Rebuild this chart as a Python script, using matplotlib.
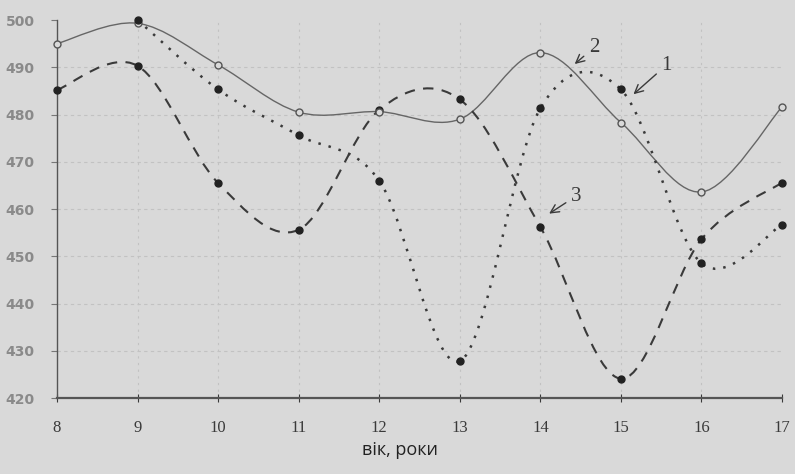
import numpy as np
import matplotlib.pyplot as plt
from matplotlib.path import Path
from matplotlib.patches import PathPatch

# data
ages = [8, 9, 10, 11, 12, 13, 14, 15, 16, 17]
s1 = [np.nan, 500, 485.3, 475.6, 466, 427.8, 481.3, 485.3, 448.5, 456.7]  # dotted
s2 = [495, 499.3, 490.5, 480.5, 480.6, 479, 493.1, 478.3, 463.6, 481.6]  # solid
s3 = [485.2, 490.3, 465.5, 455.6, 481, 483.2, 456.2, 424.1, 453.6, 465.6]  # dashed
yticks = [420, 430, 440, 450, 460, 470, 480, 490, 500]

bg = '#d9d9d9'
ink = '#3a3a3a'


def smooth_path(x, y):
    # catmull-rom style smoothing (like excel "smoothed line")
    pts = [(a, b) for a, b in zip(x, y) if not np.isnan(b)]
    pts = np.array(pts, dtype=float)
    n = len(pts)
    verts = [pts[0]]
    codes = [Path.MOVETO]
    for i in range(n - 1):
        p0 = pts[max(i - 1, 0)]
        p1 = pts[i]
        p2 = pts[i + 1]
        p3 = pts[min(i + 2, n - 1)]
        c1 = p1 + (p2 - p0) / 6.0
        c2 = p2 - (p3 - p1) / 6.0
        verts += [c1, c2, p2]
        codes += [Path.CURVE4] * 3
    return Path(verts, codes)


fig = plt.figure(figsize=(7.95, 4.74), dpi=100, facecolor=bg)
ax = fig.add_axes([0.0717, 0.1603, 0.912, 0.7975], facecolor=bg)

# faint grid (like the scan)
for v in yticks[1:-1]:
    ax.axhline(v, color='#c2c2c2', lw=0.8, ls=(0, (3, 3)), zorder=0)
for v in ages[1:-1]:
    ax.axvline(v, color='#c2c2c2', lw=0.8, ls=(0, (2, 4)), zorder=0)

ax.add_patch(PathPatch(smooth_path(ages, s2), fill=False, ec='#666666', lw=1.0,
                       zorder=3, clip_on=False))
ax.add_patch(PathPatch(smooth_path(ages, s1), fill=False, ec=ink, lw=1.8,
                       ls=(0, (1, 3.2)), zorder=3, clip_on=False))
ax.add_patch(PathPatch(smooth_path(ages, s3), fill=False, ec=ink, lw=1.5,
                       ls=(0, (5, 4)), zorder=3, clip_on=False))

ax.plot(ages, s3, 'o', ms=5, color='#222222', zorder=4, clip_on=False)
ax.plot(ages, s2, 'o', ms=5, mfc=bg, mec='#555555', mew=1.0, zorder=5, clip_on=False)
ax.plot(ages, s1, 'o', ms=5, color='#222222', zorder=6, clip_on=False)

# curve labels
arrow = dict(arrowstyle='->', color=ink, lw=1.0)
ax.annotate('2', xy=(14.40, 490.3), xytext=(14.6, 493.2), fontsize=15,
            family='Liberation Serif', color=ink, arrowprops=arrow)
ax.annotate('1', xy=(15.13, 483.9), xytext=(15.5, 489.5), fontsize=15,
            family='Liberation Serif', color=ink, arrowprops=arrow)
ax.annotate('3', xy=(14.08, 458.7), xytext=(14.38, 461.8), fontsize=15,
            family='Liberation Serif', color=ink, arrowprops=arrow)

ax.set_xlim(8, 17)
ax.set_ylim(420, 500)
ax.set_xticks(ages)
ax.set_yticks(yticks)
ax.set_xticklabels([str(a) for a in ages], family='Liberation Serif', fontsize=12, color=ink)
ax.set_yticklabels([str(v) for v in yticks], fontsize=10, fontweight='bold', color='#8a8a8a')
ax.tick_params(axis='x', direction='inout', length=6, pad=13, color=ink)
ax.tick_params(axis='y', direction='out', length=4, pad=12, color='#777777')

for side in ['top', 'right']:
    ax.spines[side].set_visible(False)
ax.spines['left'].set_color('#555555')
ax.spines['bottom'].set_color('#555555')
ax.spines['bottom'].set_linewidth(1.6)
ax.spines['left'].set_linewidth(1.0)

fig.text(0.503, 0.04, 'вік, роки', ha='center', fontsize=13, family='Open Sans', color='#222222')

fig.savefig('out.png', dpi=100, facecolor=bg)
